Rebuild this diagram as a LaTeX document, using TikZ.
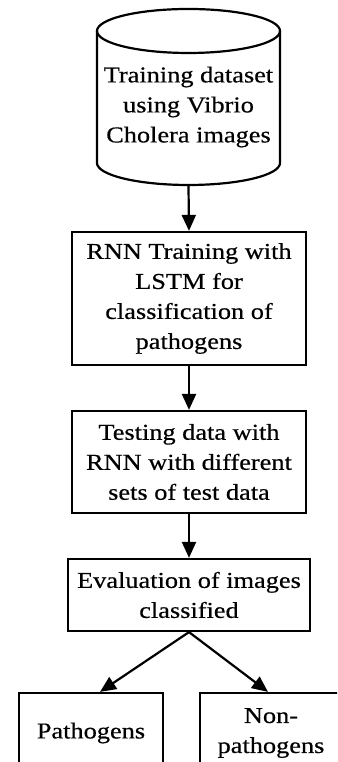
\documentclass[tikz,border=0pt]{standalone}
\usepackage{fontspec}
\setmainfont{Liberation Serif}[FakeStretch=1.16,FakeBold=0.5]
\usetikzlibrary{arrows.meta,calc}
\begin{document}
\begin{tikzpicture}[x=1pt,y=1pt,
  line width=2.2pt,
  every node/.style={font=\fontsize{22.7}{30}\selectfont, align=center, inner sep=0pt},
  box/.style={draw, line width=2.2pt, minimum width=#1},
  flow/.style={line width=2.2pt, -{Triangle[length=16pt,width=14pt]}}
]
\useasboundingbox (0,0) rectangle (337,762);
\clip (0,0) rectangle (337,762);
% cylinder
\node[minimum width=183pt, minimum height=176pt] (data) at (188.5,665) {};
\draw (188.5,731) ellipse [x radius=91.5, y radius=22];
\draw (97,731) -- (97,599) arc [start angle=180, end angle=360, x radius=91.5, y radius=22] -- (280,731);
\node (datatext) at (188.5,655) {Training dataset\\using Vibrio\\Cholera images};
% boxes
\node[box=234pt, minimum height=133pt] (train) at (189,463.5) {RNN Training with\\LSTM for\\classification of\\pathogens};
\node[box=234pt, minimum height=102pt] (test) at (189,300) {Testing data with\\RNN with different\\sets of test data};
\node[box=242pt, minimum height=72pt] (eval) at (189,167) {Evaluation of images\\classified};
\node[box=144pt, minimum height=80pt] (pat) at (91,29) {Pathogens};
\node[box=142pt, minimum height=80pt] (non) at (271,29) {Non-\\pathogens};
% connectors
\draw[flow] (data.south) -- (train.north);
\draw[flow] (train.south) -- (test.north);
\draw[flow] (test.south) -- (eval.north);
\draw[flow] (eval.south) -- ([xshift=9pt]pat.north);
\draw[flow] (eval.south) -- ([xshift=-3pt]non.north);
\end{tikzpicture}
\end{document}
